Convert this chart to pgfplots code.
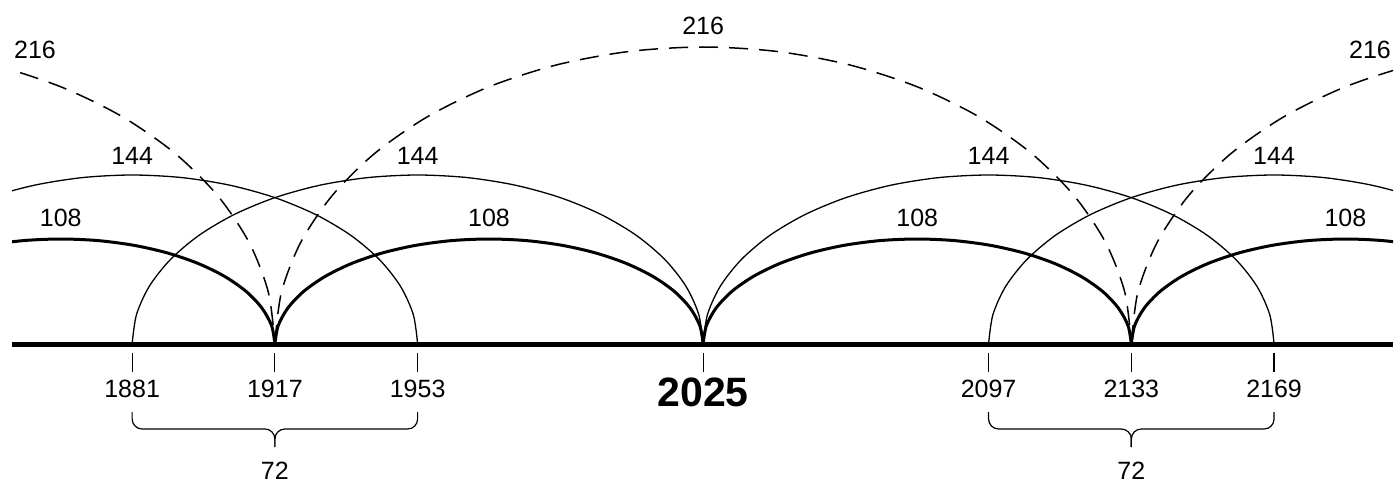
\documentclass[border=0pt]{standalone}
\usepackage{pgfplots}
\usepackage{pgfplotstable}
\pgfplotsset{compat=1.18}
\usepackage{fontspec}
\setmainfont{Liberation Sans}
\tikzset{lbl/.style={font=\fontsize{12.5}{14}\selectfont, inner sep=0pt}}

% arc shapes: offset from arc centre (years) and height (drawing units)
\pgfplotstableread{
dx y
-54 0
-53.18 18.23
-50.74 35.91
-46.77 52.50
-41.37 67.49
-34.71 80.43
-27.00 90.93
-18.47 98.67
-9.38 103.41
0 105
9.38 103.41
18.47 98.67
27.00 90.93
34.71 80.43
41.37 67.49
46.77 52.50
50.74 35.91
53.18 18.23
54 0
}\arcA
\pgfplotstableread{
dx y
-72 0
-70.91 29.35
-67.66 57.80
-62.35 84.50
-55.16 108.63
-46.28 129.46
-36.00 146.36
-24.63 158.81
-12.50 166.43
0 169
12.50 166.43
24.63 158.81
36.00 146.36
46.28 129.46
55.16 108.63
62.35 84.50
67.66 57.80
70.91 29.35
72 0
}\arcB
\pgfplotstableread{
dx y
-108 0
-106.36 51.57
-101.49 101.58
-93.53 148.50
-82.73 190.91
-69.42 227.51
-54.00 257.21
-36.94 279.09
-18.75 292.49
0 297
18.75 292.49
36.94 279.09
54.00 257.21
69.42 227.51
82.73 190.91
93.53 148.50
101.49 101.58
106.36 51.57
108 0
}\arcC

\begin{document}
\begin{tikzpicture}
\begin{axis}[
  name=main,
  width=690.5pt, height=241.5pt, scale only axis,
  xmin=1850.7, xmax=2199, ymin=-139, ymax=344,
  hide axis, clip mode=individual,
  unbounded coords=jump,
  every axis plot/.append style={black},
]
% 216 dashed arcs
\addplot[line width=0.75pt, dash pattern=on 9.5pt off 5.5pt, smooth] table[x expr=\thisrow{dx}+1809, y=y] {\arcC};
\addplot[line width=0.75pt, dash pattern=on 9.5pt off 5.5pt, smooth] table[x expr=\thisrow{dx}+2025, y=y] {\arcC};
\addplot[line width=0.75pt, dash pattern=on 9.5pt off 5.5pt, smooth] table[x expr=\thisrow{dx}+2241, y=y] {\arcC};
% 144 thin arcs
\addplot[line width=0.65pt, smooth] table[x expr=\thisrow{dx}+1881, y=y] {\arcB};
\addplot[line width=0.65pt, smooth] table[x expr=\thisrow{dx}+1953, y=y] {\arcB};
\addplot[line width=0.65pt, smooth] table[x expr=\thisrow{dx}+2097, y=y] {\arcB};
\addplot[line width=0.65pt, smooth] table[x expr=\thisrow{dx}+2169, y=y] {\arcB};
% 108 thick arcs
\addplot[line width=1.5pt, smooth] table[x expr=\thisrow{dx}+1863, y=y] {\arcA};
\addplot[line width=1.5pt, smooth] table[x expr=\thisrow{dx}+1971, y=y] {\arcA};
\addplot[line width=1.5pt, smooth] table[x expr=\thisrow{dx}+2079, y=y] {\arcA};
\addplot[line width=1.5pt, smooth] table[x expr=\thisrow{dx}+2187, y=y] {\arcA};
% baseline
\addplot[line width=2.5pt] coordinates {(1850.7,0) (2199,0)};
% ticks
\addplot[line width=0.6pt] coordinates {
 (1881,-9) (1881,-28) (1881,nan)
 (1917,-9) (1917,-28) (1917,nan)
 (1953,-9) (1953,-28) (1953,nan)
 (2025,-9) (2025,-28) (2025,nan)
 (2097,-9) (2097,-28) (2097,nan)
 (2133,-9) (2133,-28) (2133,nan)
 (2169,-9) (2169,-28)};
% braces
\addplot[line width=0.6pt, rounded corners=5pt] coordinates {(1881,-68) (1881,-85) (1917,-85) (1917,-103)};
\addplot[line width=0.6pt, rounded corners=5pt] coordinates {(1953,-68) (1953,-85) (1917,-85) (1917,-103)};
\addplot[line width=0.6pt, rounded corners=5pt] coordinates {(2097,-68) (2097,-85) (2133,-85) (2133,-103)};
\addplot[line width=0.6pt, rounded corners=5pt] coordinates {(2169,-68) (2169,-85) (2133,-85) (2133,-103)};

% labels
\node[lbl] at (axis cs:1856.5,294) {216};
\node[lbl] at (axis cs:2025,318) {216};
\node[lbl] at (axis cs:2193.2,294) {216};
\node[lbl] at (axis cs:1881,188) {144};
\node[lbl] at (axis cs:1953,188) {144};
\node[lbl] at (axis cs:2097,188) {144};
\node[lbl] at (axis cs:2169,188) {144};
\node[lbl] at (axis cs:1863,126) {108};
\node[lbl] at (axis cs:1971,126) {108};
\node[lbl] at (axis cs:2079,126) {108};
\node[lbl] at (axis cs:2187,126) {108};
\node[lbl] at (axis cs:1881,-45) {1881};
\node[lbl] at (axis cs:1917,-45) {1917};
\node[lbl] at (axis cs:1953,-45) {1953};
\node[lbl] at (axis cs:2097,-45) {2097};
\node[lbl] at (axis cs:2133,-45) {2133};
\node[lbl] at (axis cs:2169,-45) {2169};
\node[inner sep=0pt, font=\fontsize{20.5}{24}\selectfont\bfseries] at (axis cs:2025,-48) {2025};
\node[lbl] at (axis cs:1917,-127) {72};
\node[lbl] at (axis cs:2133,-127) {72};
\end{axis}
% page margins as in the reference
\path ([xshift=-6pt]main.south west) -- ([xshift=1.5pt]main.north east);
\end{tikzpicture}
\end{document}
